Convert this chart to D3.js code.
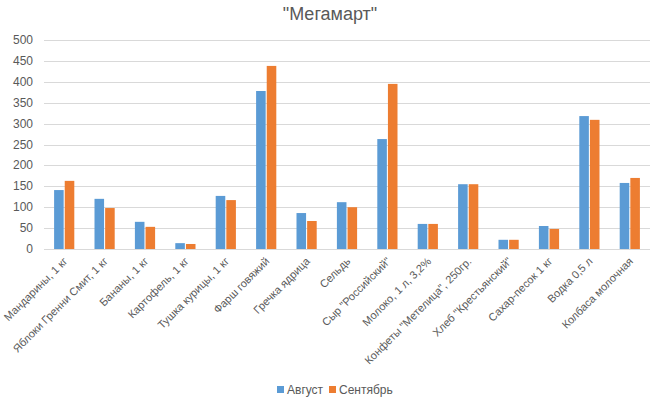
<!DOCTYPE html>
<html><head><meta charset="utf-8">
<script src="https://cdn.jsdelivr.net/npm/d3@7"></script>
<style>body{margin:0;background:#fff;} svg{display:block;font-family:"Liberation Sans",Arial,sans-serif;}</style>
</head><body>
<svg id="c" width="651" height="407"></svg>
<script>
const categories = ["Мандарины, 1 кг","Яблоки Гренни Смит, 1 кг","Бананы, 1 кг","Картофель, 1 кг","Тушка курицы, 1 кг","Фарш говяжий","Гречка ядрица","Сельдь","Сыр \"Российский\"","Молоко, 1 л, 3,2%","Конфеты \"Метелица\", 250гр.","Хлеб \"Крестьянский\"","Сахар-песок 1 кг","Водка 0,5 л","Колбаса молочная"];
const august = [141,120,65,14,127,378,86,112,263,60,155,22,55,318,158];
const september = [163,98,53,12,117,438,67,100,395,60,155,22,48,309,170];
const seriesNames = ["Август","Сентябрь"];
const colors = ["#5b9bd5","#ed7d31"];
const yTicks = [0,50,100,150,200,250,300,350,400,450,500];
const title = "\"Мегамарт\"";

const svg = d3.select("#c");
const m = {l:44, r:1};
const W = 651;
const x0 = d3.scaleBand().domain(categories).range([m.l, W-m.r]).paddingInner(0.5).paddingOuter(0.25);
const x1 = d3.scaleBand().domain(seriesNames).range([0, x0.bandwidth()]).paddingInner(0.1);
const y = d3.scaleLinear().domain([0,500]).range([249,40]);

// grid
svg.append("g").selectAll("line").data(yTicks).join("line")
  .attr("x1", m.l).attr("x2", W-m.r)
  .attr("y1", d=>Math.round(y(d))+0.5).attr("y2", d=>Math.round(y(d))+0.5)
  .attr("stroke","#d9d9d9").attr("stroke-width",1);

// y labels
svg.append("g").selectAll("text").data(yTicks).join("text")
  .attr("x", 33).attr("y", d=>y(d)+4)
  .attr("text-anchor","end").attr("font-size",12).attr("fill","#595959")
  .text(d=>d);

// bars
const data = categories.map((c,i)=>({c, vals:[august[i], september[i]]}));
const g = svg.append("g").selectAll("g").data(data).join("g")
  .attr("transform", d=>`translate(${x0(d.c)},0)`);
g.selectAll("rect").data(d=>d.vals.map((v,j)=>({s:seriesNames[j], v, j}))).join("rect")
  .attr("x", d=>x1(d.s)).attr("width", x1.bandwidth())
  .attr("y", d=>y(d.v)).attr("height", d=>y(0)-y(d.v))
  .attr("fill", d=>colors[d.j]);

// x labels
svg.append("g").selectAll("text").data(categories).join("text")
  .attr("transform", d=>`translate(${x0(d)+x0.bandwidth()/2+4},${262}) rotate(-45)`)
  .attr("text-anchor","end").attr("font-size",11).attr("fill","#595959")
  .text(d=>d);

// title
svg.append("text").attr("x", 330).attr("y", 20).attr("text-anchor","middle")
  .attr("font-size",18).attr("fill","#595959").text(title);

// legend
const leg = svg.append("g");
const lx = [277, 329];
seriesNames.forEach((s,i)=>{
  leg.append("rect").attr("x", lx[i]).attr("y", 386).attr("width",7).attr("height",7).attr("fill",colors[i]);
  leg.append("text").attr("x", lx[i]+10).attr("y", 394).attr("font-size",12).attr("fill","#595959").text(s);
});
</script>
</body></html>
